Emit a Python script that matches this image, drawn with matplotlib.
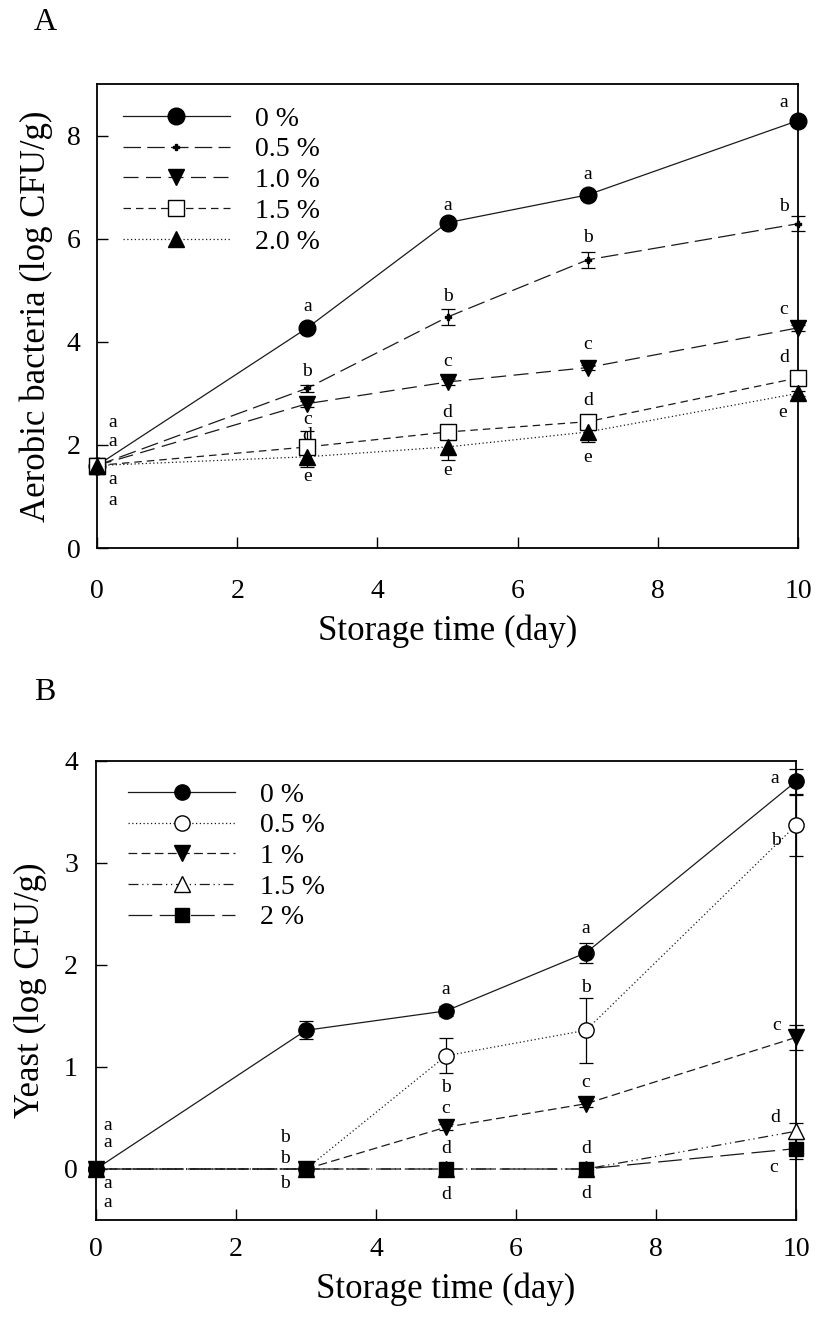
import matplotlib
matplotlib.use("Agg")
import matplotlib.pyplot as plt
from matplotlib.lines import Line2D

plt.rcParams['font.family'] = ['Liberation Serif', 'DejaVu Serif']
plt.rcParams['mathtext.fontset'] = 'stix'

# storage days
days = [0, 3, 5, 7, 10]

# panel A: aerobic bacteria (log CFU/g)
a_labels = ['0 %', '0.5 %', '1.0 %', '1.5 %', '2.0 %']
a_0 = [1.6, 4.27, 6.31, 6.85, 8.29]
a_05 = [1.6, 3.10, 4.48, 5.59, 6.29]
a_10 = [1.6, 2.80, 3.22, 3.50, 4.27]
a_15 = [1.6, 1.96, 2.25, 2.45, 3.30]
a_20 = [1.6, 1.77, 1.96, 2.25, 3.00]
a_0_err = [0.05, 0.06, 0.05, 0.05, 0.06]
a_05_err = [0.05, 0.07, 0.16, 0.16, 0.15]
a_10_err = [0.05, 0.06, 0.05, 0.05, 0.06]
a_15_err = [0.05, 0.30, 0.05, 0.05, 0.05]
a_20_err = [0.05, 0.20, 0.25, 0.20, 0.05]

# panel B: yeast (log CFU/g)
b_labels = ['0 %', '0.5 %', '1 %', '1.5 %', '2 %']
b_0 = [0.0, 1.36, 1.55, 2.12, 3.80]
b_05 = [0.0, 0.0, 1.11, 1.36, 3.37]
b_1 = [0.0, 0.0, 0.41, 0.64, 1.29]
b_15 = [0.0, 0.0, 0.0, 0.0, 0.37]
b_2 = [0.0, 0.0, 0.0, 0.0, 0.20]
b_0_err = [0.02, 0.09, 0.05, 0.10, 0.12]
b_05_err = [0.0, 0.0, 0.17, 0.32, 0.30]
b_1_err = [0.0, 0.0, 0.03, 0.03, 0.12]
b_15_err = [0.0, 0.0, 0.0, 0.0, 0.08]
b_2_err = [0.0, 0.0, 0.0, 0.0, 0.10]

# significance letters (day, y, letter)
letters_a = [
    (0.22, 2.43, 'a'), (0.22, 2.06, 'a'), (0.22, 1.32, 'a'), (0.22, 0.93, 'a'),
    (3, 4.68, 'a'), (3, 3.42, 'b'), (3, 2.49, 'c'), (3, 2.19, 'd'), (3, 1.38, 'e'),
    (5, 6.64, 'a'), (5, 4.87, 'b'), (5, 3.61, 'c'), (5, 2.62, 'd'), (5, 1.51, 'e'),
    (7, 7.24, 'a'), (7, 6.02, 'b'), (7, 3.94, 'c'), (7, 2.87, 'd'), (7, 1.75, 'e'),
    (9.8, 8.64, 'a'), (9.8, 6.62, 'b'), (9.8, 4.62, 'c'), (9.8, 3.69, 'd'), (9.78, 2.62, 'e'),
]
letters_b = [
    (0.16, 0.43, 'a'), (0.16, 0.26, 'a'), (0.16, -0.14, 'a'), (0.16, -0.33, 'a'),
    (2.7, 0.31, 'b'), (2.7, 0.10, 'b'), (2.7, -0.14, 'b'),
    (5, 1.76, 'a'), (5, 0.80, 'b'), (5, 0.59, 'c'), (5, 0.20, 'd'), (5, -0.25, 'd'),
    (7, 2.36, 'a'), (7, 1.78, 'b'), (7, 0.85, 'c'), (7, 0.20, 'd'), (7, -0.24, 'd'),
    (9.7, 3.83, 'a'), (9.72, 3.22, 'b'), (9.72, 1.41, 'c'), (9.7, 0.50, 'd'), (9.68, 0.01, 'c'),
]

LW = 0.9
LC = '#1a1a1a'


def draw_series(ax, ys, errs, ls, marker, ms, mfc, label):
    ax.errorbar(days, ys, yerr=errs, fmt='none', ecolor='black', elinewidth=0.9,
                capsize=5, capthick=0.9, zorder=3, clip_on=False)
    ax.plot(days, ys, color=LC, lw=LW, linestyle=ls, zorder=2, clip_on=False)
    ax.plot(days, ys, linestyle='none', marker=marker, ms=ms, mfc=mfc, mec='black',
            mew=1.0, zorder=4, clip_on=False)
    return Line2D([], [], color=LC, lw=LW, linestyle=ls, marker=marker, ms=ms,
                  mfc=mfc, mec='black', mew=1.0, label=label)


def style_axes(ax, xpad, ypad):
    for s in ax.spines.values():
        s.set_linewidth(1.3)
    ax.tick_params(direction='in', length=8, width=1.0, labelsize=20,
                   top=False, right=False)
    ax.tick_params(axis='x', pad=xpad)
    ax.tick_params(axis='y', pad=ypad)
    ax.set_xlim(0, 10)
    ax.set_xticks([0, 2, 4, 6, 8, 10])


fig = plt.figure(figsize=(8.27, 13.27), dpi=100)

# ---- panel A
ax1 = fig.add_axes([97 / 827, 1 - 548 / 1327, 701 / 827, 464 / 1327])
h = []
h.append(draw_series(ax1, a_0, a_0_err, '-', 'o', 12, 'black', a_labels[0]))
h.append(draw_series(ax1, a_05, a_05_err, (0, (14, 5)), 'P', 5, 'black', a_labels[1]))
h.append(draw_series(ax1, a_10, a_10_err, (0, (12, 6)), 'v', 12, 'black', a_labels[2]))
h.append(draw_series(ax1, a_15, a_15_err, (0, (6, 4)), 's', 11, 'white', a_labels[3]))
h.append(draw_series(ax1, a_20, a_20_err, (0, (1, 2)), '^', 12, 'black', a_labels[4]))
style_axes(ax1, 22, 12)
ax1.set_ylim(0, 9)
ax1.set_yticks([0, 2, 4, 6, 8])
ax1.set_xlabel('Storage time (day)', fontsize=25, labelpad=8)
ax1.set_ylabel('Aerobic bacteria (log CFU/g)', fontsize=25, labelpad=10)
for x, y, t in letters_a:
    ax1.text(x, y, t, fontsize=14, ha='center', va='center')
ax1.legend(handles=h, loc='upper left', bbox_to_anchor=(0.037, 0.952),
           frameon=False, fontsize=20, handlelength=3.85, handletextpad=0.9,
           labelspacing=0.19, borderpad=0, borderaxespad=0, numpoints=1)
fig.text(45 / 827, 1 - 22 / 1327, 'A', fontsize=23, ha='center', va='center')

# ---- panel B
ax2 = fig.add_axes([96 / 827, 1 - 1220 / 1327, 700 / 827, 459 / 1327])
h = []
h.append(draw_series(ax2, b_0, b_0_err, '-', 'o', 11, 'black', b_labels[0]))
h.append(draw_series(ax2, b_05, b_05_err, (0, (1, 2)), 'o', 11, 'white', b_labels[1]))
h.append(draw_series(ax2, b_1, b_1_err, (0, (7, 3.5)), 'v', 11, 'black', b_labels[2]))
h.append(draw_series(ax2, b_15, b_15_err, (0, (8, 3, 1, 3, 1, 3)), '^', 11, 'white', b_labels[3]))
h.append(draw_series(ax2, b_2, b_2_err, (0, (19, 6)), 's', 10, 'black', b_labels[4]))
style_axes(ax2, 12, 13)
ax2.set_ylim(-0.5, 4)
ax2.set_yticks([0, 1, 2, 3, 4])
ax2.set_xlabel('Storage time (day)', fontsize=25, labelpad=8)
ax2.set_ylabel('Yeast (log CFU/g)', fontsize=25, labelpad=12)
for x, y, t in letters_b:
    ax2.text(x, y, t, fontsize=14, ha='center', va='center')
ax2.legend(handles=h, loc='upper left', bbox_to_anchor=(0.046, 0.954),
           frameon=False, fontsize=20, handlelength=3.85, handletextpad=0.9,
           labelspacing=0.19, borderpad=0, borderaxespad=0, numpoints=1)
fig.text(45 / 827, 1 - 692 / 1327, 'B', fontsize=23, ha='center', va='center')

fig.savefig('out.png', dpi=100)
